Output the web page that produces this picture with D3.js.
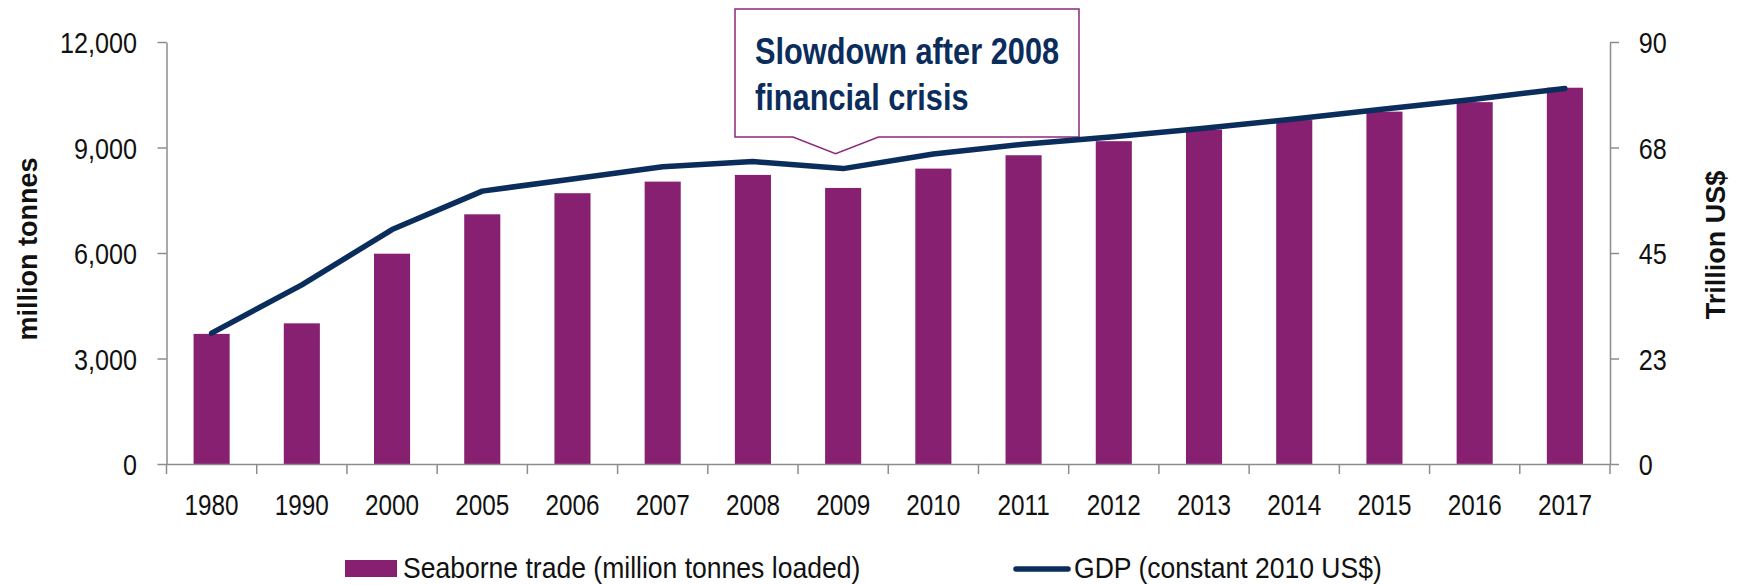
<!DOCTYPE html>
<html>
<head>
<meta charset="utf-8">
<script src="https://cdn.jsdelivr.net/npm/d3@7"></script>
<style>
  html, body { margin: 0; padding: 0; background: #ffffff; }
  svg { display: block; font-family: "Liberation Sans", Arial, Helvetica, sans-serif; }
</style>
</head>
<body>
<svg id="chart" width="1742" height="585"></svg>
<script>
// ---- data ----
const years = ["1980","1990","2000","2005","2006","2007","2008","2009","2010","2011","2012","2013","2014","2015","2016","2017"];
const seaborneTrade = [3700, 4000, 5980, 7100, 7700, 8030, 8220, 7850, 8400, 8780, 9180, 9510, 9780, 10020, 10290, 10700];
const gdp = [27.9, 38.2, 50.0, 58.2, 60.8, 63.4, 64.5, 63.0, 66.1, 68.2, 69.8, 71.6, 73.6, 75.7, 77.8, 80.1];
const leftTicks = [0, 3000, 6000, 9000, 12000];
const rightTicks = [0, 22.5, 45, 67.5, 90];
const rightTickLabels = ["0", "23", "45", "68", "90"];
const legendLabels = ["Seaborne trade (million tonnes loaded)", "GDP (constant 2010 US$)"];
const annotationLines = ["Slowdown after 2008", "financial crisis"];

(function () {
// ---- style ----
const PURPLE = "#872070";
const NAVY = "#0b2d5b";
const AXIS = "#8c8c8c";
const TEXT = "#111111";
const NARROW = 0.84;

const svg = d3.select("#chart");
const pLeft = 166.5, pRight = 1610, pTop = 42, pBottom = 464;

const x = d3.scaleBand().domain(years).range([pLeft, pRight]).padding(0);
const y = d3.scaleLinear().domain([0, 12000]).range([pBottom, pTop]);
const y2 = d3.scaleLinear().domain([0, 90]).range([pBottom, pTop]);

// ---- annotation callout (drawn under the line) ----
const ann = svg.append("g");
const bx0 = 735, bx1 = 1079, by0 = 9, by1 = 137;
ann.append("path")
  .attr("d", `M${bx0},${by0} H${bx1} V${by1} H878.5 L835.6,153.7 L793,${by1} H${bx0} Z`)
  .attr("fill", "#ffffff")
  .attr("stroke", "#8b2a7a")
  .attr("stroke-width", 1.5);
ann.selectAll("text").data(annotationLines).join("text")
  .attr("transform", (d, i) => `translate(755,${64 + i * 45.5}) scale(${0.82},1)`)
  .attr("font-size", 37.5)
  .attr("font-weight", "bold")
  .attr("fill", NAVY)
  .text(d => d);

// ---- bars ----
const barW = x.bandwidth() * 0.4;
svg.append("g").selectAll("rect").data(years).join("rect")
  .attr("x", d => x(d) + (x.bandwidth() - barW) / 2)
  .attr("width", barW)
  .attr("y", (d, i) => y(seaborneTrade[i]))
  .attr("height", (d, i) => y(0) - y(seaborneTrade[i]))
  .attr("fill", PURPLE);

// ---- axes ----
function styleAxis(g) {
  g.selectAll("path.domain").attr("stroke", AXIS).attr("stroke-width", 1.5);
  g.selectAll(".tick line").attr("stroke", AXIS).attr("stroke-width", 1.5);
  g.selectAll("text").attr("fill", TEXT).attr("font-size", 30)
    .attr("font-family", "'Liberation Sans', Arial, sans-serif");
}

// left
const gl = svg.append("g").attr("transform", `translate(${pLeft},0)`)
  .call(d3.axisLeft(y).tickValues(leftTicks).tickFormat(d3.format(",")).tickSize(9).tickSizeOuter(0));
styleAxis(gl);
gl.selectAll(".tick text")
  .attr("x", 0).attr("dy", "0.36em")
  .attr("text-anchor", "end")
  .attr("transform", `translate(-29.5,0) scale(${NARROW},1)`);

// right
const gr = svg.append("g").attr("transform", `translate(${pRight},0)`)
  .call(d3.axisRight(y2).tickValues(rightTicks).tickFormat((d, i) => rightTickLabels[i]).tickSize(9).tickSizeOuter(0));
styleAxis(gr);
gr.selectAll(".tick text")
  .attr("x", 0).attr("dy", "0.36em")
  .attr("text-anchor", "start")
  .attr("transform", `translate(28.7,0) scale(${NARROW},1)`);

// bottom
const gb = svg.append("g").attr("transform", `translate(0,${pBottom})`)
  .call(d3.axisBottom(x).tickSize(0).tickSizeOuter(0));
styleAxis(gb);
gb.selectAll(".tick text")
  .attr("y", 0).attr("dy", 0)
  .attr("transform", `translate(0,50.5) scale(0.81,1)`);
const boundaries = years.map(d => x(d)).concat([x.range()[1]]);
gb.selectAll("line.bound").data(boundaries).join("line")
  .attr("class", "bound")
  .attr("x1", d => d).attr("x2", d => d)
  .attr("y1", 0).attr("y2", 10)
  .attr("stroke", AXIS).attr("stroke-width", 1.5);

// ---- GDP line ----
const line = d3.line()
  .x((d, i) => x(years[i]) + x.bandwidth() / 2)
  .y(d => y2(d));
svg.append("path").datum(gdp)
  .attr("d", line)
  .attr("fill", "none")
  .attr("stroke", NAVY)
  .attr("stroke-width", 5.5)
  .attr("stroke-linejoin", "round")
  .attr("stroke-linecap", "round");

// ---- axis titles ----
svg.append("text")
  .attr("transform", `translate(37,249) rotate(-90)`)
  .attr("text-anchor", "middle")
  .attr("font-size", 27).attr("font-weight", "bold").attr("fill", TEXT)
  .text("million tonnes");
svg.append("text")
  .attr("transform", `translate(1725,245) rotate(-90)`)
  .attr("text-anchor", "middle")
  .attr("font-size", 27).attr("font-weight", "bold").attr("fill", TEXT)
  .text("Trillion US$");

// ---- legend ----
const lg = svg.append("g");
lg.append("rect").attr("x", 345).attr("y", 560).attr("width", 52).attr("height", 17).attr("fill", PURPLE);
lg.append("text")
  .attr("transform", `translate(403,578) scale(0.9,1)`)
  .attr("font-size", 29.5).attr("fill", TEXT)
  .text(legendLabels[0]);
lg.append("line").attr("x1", 1016).attr("x2", 1068).attr("y1", 569).attr("y2", 569)
  .attr("stroke", NAVY).attr("stroke-width", 5.5).attr("stroke-linecap", "round");
lg.append("text")
  .attr("transform", `translate(1074,578) scale(0.9,1)`)
  .attr("font-size", 29.5).attr("fill", TEXT)
  .text(legendLabels[1]);
})();
</script>
</body>
</html>
